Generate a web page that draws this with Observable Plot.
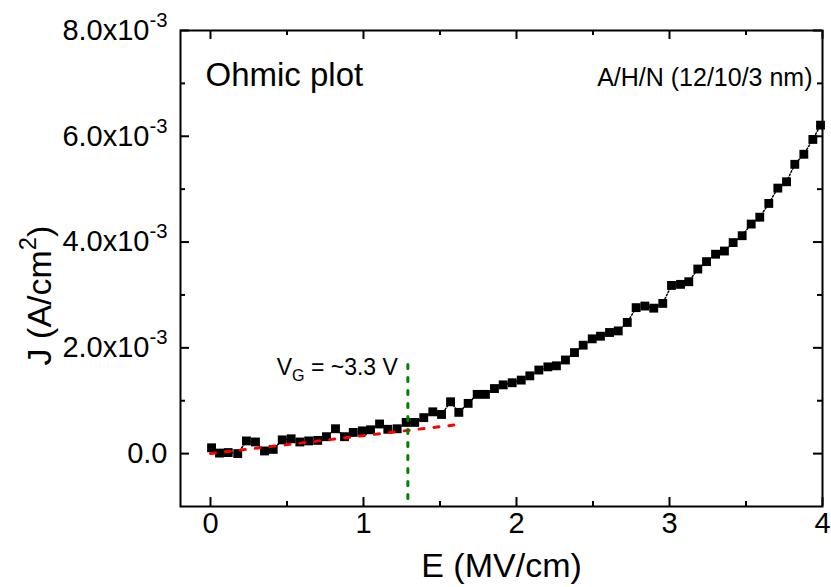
<!DOCTYPE html>
<html>
<head>
<meta charset="utf-8">
<script src="https://cdn.jsdelivr.net/npm/d3@7"></script>
<script src="https://cdn.jsdelivr.net/npm/@observablehq/plot@0.6"></script>
<style>
  body { margin: 0; background: #fff; }
  #chart svg { font-family: "Liberation Sans", Arial, sans-serif; }
</style>
</head>
<body>
<div id="chart"></div>
<script>
// Measured field E (MV/cm)
const E = [0.007,0.059,0.116,0.178,0.235,0.294,0.353,0.410,0.469,0.527,0.584,0.642,0.701,0.758,0.817,0.876,0.933,0.992,1.046,1.105,1.159,1.220,1.279,1.335,1.394,1.453,1.510,1.569,1.623,1.684,1.743,1.797,1.856,1.913,1.972,2.031,2.087,2.146,2.205,2.261,2.320,2.379,2.436,2.495,2.549,2.608,2.665,2.724,2.782,2.839,2.897,2.956,3.013,3.072,3.126,3.185,3.242,3.301,3.359,3.416,3.475,3.534,3.590,3.649,3.708,3.765,3.819,3.878,3.937,3.987];
// Current density J (in units of 1e-3 A/cm^2)
const J = [0.11,0.01,0.02,0.00,0.24,0.22,0.05,0.08,0.26,0.28,0.22,0.24,0.25,0.32,0.47,0.32,0.40,0.43,0.45,0.56,0.46,0.47,0.59,0.59,0.68,0.79,0.74,0.98,0.78,0.95,1.12,1.12,1.23,1.30,1.34,1.39,1.47,1.58,1.64,1.66,1.77,1.91,2.05,2.17,2.22,2.29,2.32,2.48,2.76,2.79,2.75,2.84,3.18,3.20,3.25,3.49,3.63,3.77,3.83,3.99,4.12,4.34,4.47,4.73,5.02,5.14,5.47,5.66,5.94,6.21];
// Ohmic linear fit (red dashed)
const fitE = [0, 1.62];
const fitJ = [0, 0.55];
// V_G marker (green dotted)
const vgE = [1.29, 1.29];
const vgJ = [-0.85, 1.72];
// Axes
const xTicks = [0, 1, 2, 3, 4];
const xTickLabels = ["0", "1", "2", "3", "4"];
const xMinor = [0.5, 1.5, 2.5, 3.5];
const yTicks = [0, 2, 4, 6, 8];
const yMinor = [1, 3, 5, 7];
const yTickMantissa = ["0.0", "2.0x10", "4.0x10", "6.0x10", "8.0x10"];
const yTickExponent = ["", "-3", "-3", "-3", "-3"];
const xLabel = "E (MV/cm)";
const yLabel = "J (A/cm^{2})";
const title = "Ohmic plot";
const sample = "A/H/N (12/10/3 nm)";
const vgLabel = "V_{G} = ~3.3 V";

const W = 831, H = 587, mL = 180, mR = 9, mT = 30, mB = 81;
const fw = W - mL - mR, fh = H - mT - mB;
const pts = E.map((e, i) => ({E: e, J: J[i]}));
const fit = fitE.map((e, i) => ({E: e, J: fitJ[i]}));
const vg = vgE.map((e, i) => ({E: e, J: vgJ[i]}));
const xFmt = (d) => xTickLabels[xTicks.indexOf(d)];
const yFmt = (d) => { const i = yTicks.indexOf(d); return yTickMantissa[i] + (yTickExponent[i] ? "^{" + yTickExponent[i] + "}" : ""); };

const plot = Plot.plot({
  width: W, height: H,
  marginLeft: mL, marginRight: mR, marginTop: mT, marginBottom: mB,
  style: {fontFamily: "Liberation Sans, Arial, sans-serif", background: "white", color: "black", overflow: "visible"},
  x: {domain: [-0.196, 4.0]},
  y: {domain: [-1, 8]},
  marks: [
    Plot.line(pts, {x: "E", y: "J", stroke: "black", strokeWidth: 1.5, strokeDasharray: "1.5,2"}),
    Plot.dot(pts, {x: "E", y: "J", symbol: "square", r: 5, fill: "black", stroke: "none"}),
    Plot.line(fit, {x: "E", y: "J", stroke: "#ff0000", strokeWidth: 3, strokeDasharray: "5,10"}),
    Plot.line(vg, {x: "E", y: "J", stroke: "#008000", strokeWidth: 3, strokeDasharray: "4,9"}),
    Plot.frame({stroke: "black", strokeWidth: 2}),
    // inward ticks on all four sides
    Plot.ruleX(xTicks, {stroke: "black", strokeWidth: 2, insetTop: fh - 9}),
    Plot.ruleX(xMinor, {stroke: "black", strokeWidth: 2, insetTop: fh - 5}),
    Plot.ruleX(xTicks, {stroke: "black", strokeWidth: 2, insetBottom: fh - 9}),
    Plot.ruleX(xMinor, {stroke: "black", strokeWidth: 2, insetBottom: fh - 5}),
    Plot.ruleY(yTicks, {stroke: "black", strokeWidth: 2, insetRight: fw - 9}),
    Plot.ruleY(yMinor, {stroke: "black", strokeWidth: 2, insetRight: fw - 5}),
    Plot.ruleY(yTicks, {stroke: "black", strokeWidth: 2, insetLeft: fw - 9}),
    Plot.ruleY(yMinor, {stroke: "black", strokeWidth: 2, insetLeft: fw - 5}),
    Plot.axisX(xTicks, {anchor: "bottom", tickSize: 0, tickPadding: 6, fontSize: 29, label: null, tickFormat: xFmt}),
    Plot.axisY(yTicks, {anchor: "left", tickSize: 0, tickPadding: 13, fontSize: 29, label: null, tickFormat: yFmt}),
    Plot.text([xLabel], {frameAnchor: "bottom", dy: 60, textAnchor: "middle", lineAnchor: "middle", fontSize: 34, fill: "black"}),
    Plot.text([yLabel], {frameAnchor: "left", dx: -140, dy: 27, rotate: -90, textAnchor: "middle", lineAnchor: "middle", fontSize: 34, fill: "black"}),
    Plot.text([title], {frameAnchor: "top-left", dx: 25, dy: 32, lineAnchor: "top", textAnchor: "start", fontSize: 33, fill: "black"}),
    Plot.text([sample], {frameAnchor: "top-right", dx: -10, dy: 38, lineAnchor: "top", textAnchor: "end", fontSize: 25, fill: "black"}),
    Plot.text([{E: vgE[1], J: vgJ[1]}], {x: "E", y: "J", text: () => vgLabel, dx: -10, dy: 5, textAnchor: "end", lineAnchor: "middle", fontSize: 23, fill: "black"})
  ]
});
document.getElementById("chart").appendChild(plot);

// Render ^{...} as superscript and _{...} as subscript
d3.select(plot).selectAll("text").each(function() {
  const t = this.textContent;
  if (!/[\^_]\{/.test(t)) return;
  const fs = parseFloat(getComputedStyle(this).fontSize) || 16;
  const sel = d3.select(this);
  sel.text(null);
  const re = /([\^_])\{([^}]*)\}/g;
  let last = 0, m, pending = 0;
  while ((m = re.exec(t))) {
    if (m.index > last) { const s = sel.append("tspan").text(t.slice(last, m.index)); if (pending) { s.attr("dy", pending); pending = 0; } }
    const shift = m[1] === "^" ? -0.45 * fs : 0.28 * fs;
    sel.append("tspan").attr("font-size", 0.7 * fs).attr("dy", shift + pending).text(m[2]);
    pending = -shift;
    last = re.lastIndex;
  }
  if (last < t.length) { const s = sel.append("tspan").text(t.slice(last)); if (pending) s.attr("dy", pending); }
});
</script>
</body>
</html>
